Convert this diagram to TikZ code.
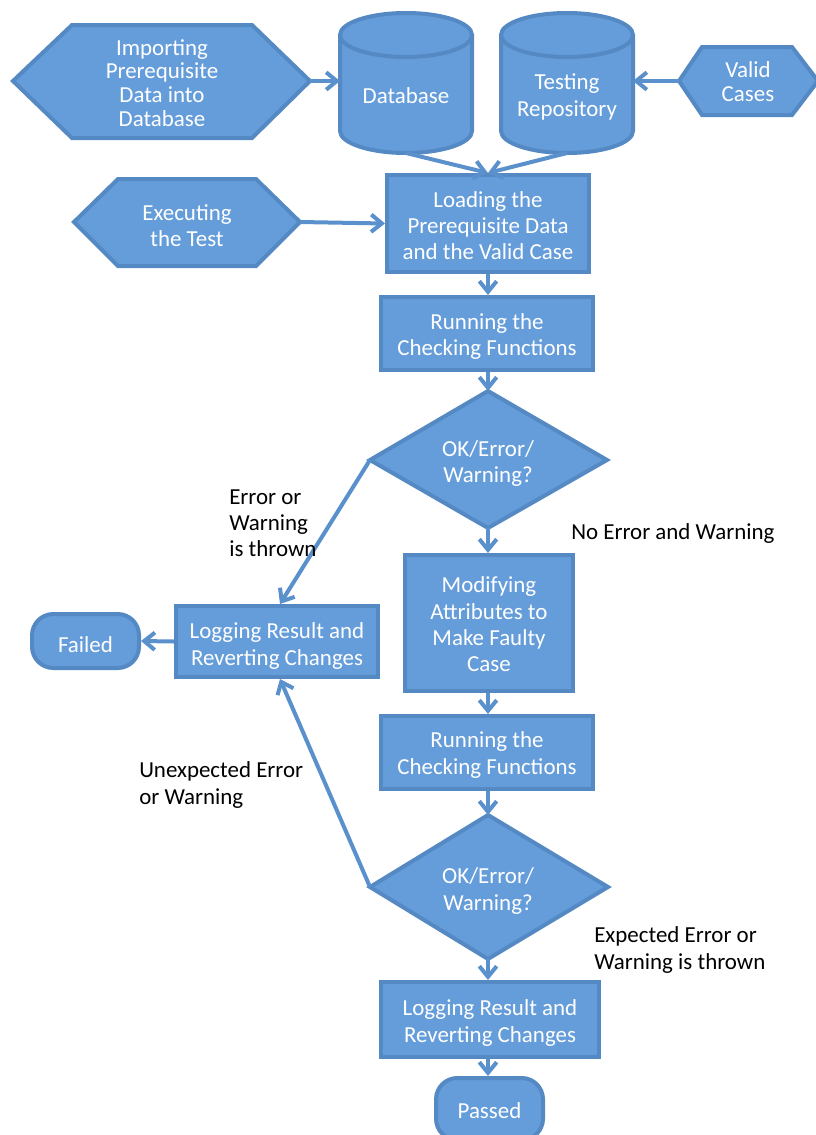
\documentclass[tikz,border=0pt]{standalone}
\usepackage{fontspec}
\setmainfont{Carlito}
\usetikzlibrary{arrows.meta}
\definecolor{shapefill}{RGB}{101,157,218}
\definecolor{shapeline}{RGB}{84,137,195}
\definecolor{connline}{RGB}{90,145,205}
\begin{document}
\begin{tikzpicture}[x=0.75pt,y=0.75pt,
  every node/.style={font=\fontsize{17.2}{19.7}\selectfont},
  shapebase/.style={fill=shapefill,draw=shapeline,line width=3pt,line join=miter},
  txt/.style={text=white,align=center,inner sep=0pt},
  procbox/.style={shapebase,rectangle,inner sep=0pt},
  terminal/.style={shapebase,rectangle,rounded corners=16pt,inner sep=0pt,
    minimum width=80.25pt},
  lbl/.style={text=black,align=left,inner sep=0pt,anchor=west},
  conn/.style={draw=connline,line width=3pt,
    -{Straight Barb[length=8pt,width=13pt,line width=3pt]}}
]
\useasboundingbox[fill=white] (0,0) rectangle (816,-1135);

% --- input hexagons ---
\draw[shapebase] (13,-81) -- (72,-25) -- (252,-25) -- (310,-81) -- (252,-138) -- (72,-138) -- cycle;
\node[txt,font=\fontsize{17.2}{17.8}\selectfont] (imp) at (162,-83) {Importing\\Prerequisite\\Data into\\Database};
\coordinate (impE) at (310,-81);

\draw[shapebase] (74,-222) -- (118,-179) -- (256,-179) -- (300,-222) -- (256,-266) -- (118,-266) -- cycle;
\node[txt] (exe) at (187,-226) {Executing\\the Test};
\coordinate (exeE) at (300,-222);

\draw[shapebase] (679,-81) -- (702,-47) -- (792,-47) -- (818,-81) -- (792,-115) -- (702,-115) -- cycle;
\node[txt,font=\fontsize{17.2}{18}\selectfont] (vc) at (748,-82) {Valid\\Cases};
\coordinate (vcW) at (679,-81);

% --- storage cylinders ---
\foreach \cx/\nm in {406/db,567/trep}{
  \fill[shapefill] (\cx-66,-35) -- (\cx-66,-131)
    arc[start angle=180,end angle=360,x radius=66,y radius=22]
    -- (\cx+66,-35) arc[start angle=0,end angle=180,x radius=66,y radius=22] -- cycle;
  \draw[shapeline,line width=3pt] (\cx-66,-35) -- (\cx-66,-131)
    arc[start angle=180,end angle=360,x radius=66,y radius=22]
    -- (\cx+66,-35);
  \draw[shapeline,line width=3pt] (\cx,-35) ellipse[x radius=66,y radius=22];
  \coordinate (\nm W) at (\cx-66,-81);
  \coordinate (\nm E) at (\cx+66,-81);
  \coordinate (\nm S) at (\cx,-153);
}
\node[txt] (dbtext) at (406,-96) {Database};
\node[txt] (treptext) at (567,-97) {Testing\\Repository};

% --- process boxes ---
\node[procbox,minimum width=151.5pt,minimum height=72.75pt] (load) at (488,-223.5) {};
\node[txt] (loadtxt) at (488,-225.5) {Loading the\\Prerequisite Data\\and the Valid Case};
\node[procbox,minimum width=159pt,minimum height=54.75pt] (run1) at (487,-333.5) {};
\node[txt] (run1txt) at (487,-336.5) {Running the\\Checking Functions};
\node[procbox,minimum width=151.5pt,minimum height=53.25pt] (logL) at (277,-641.5) {};
\node[txt] (logLtxt) at (277,-646) {Logging Result and\\Reverting Changes};
\node[procbox,minimum width=126pt,minimum height=102pt] (mod) at (489,-623) {};
\node[txt] (modtxt) at (489,-624.5) {Modifying\\Attributes to\\Make Faulty\\Case};
\node[procbox,minimum width=159pt,minimum height=54.75pt] (run2) at (487,-752.5) {};
\node[txt] (run2txt) at (487,-755) {Running the\\Checking Functions};
\node[procbox,minimum width=163.5pt,minimum height=56.25pt] (logB) at (490,-1019.5) {};
\node[txt] (logBtxt) at (490,-1023) {Logging Result and\\Reverting Changes};

% --- terminals ---
\node[terminal,minimum height=40.5pt] (failed) at (85.5,-641) {};
\node[txt] (failedtxt) at (85.5,-645) {Failed};
\node[terminal,minimum height=46.5pt] (passed) at (489.5,-1109) {};
\node[txt] (passedtxt) at (489.5,-1111) {Passed};

% --- decisions ---
\draw[shapebase] (488,-391) -- (607,-460) -- (488,-528) -- (370,-460) -- cycle;
\node[txt] (dec1) at (488,-463.5) {OK/Error/\\Warning?};
\coordinate (d1N) at (488,-391);
\coordinate (d1W) at (370,-460);
\coordinate (d1S) at (488,-528);

\draw[shapebase] (488,-815) -- (608,-887) -- (488,-959) -- (370,-887) -- cycle;
\node[txt] (dec2) at (488,-891) {OK/Error/\\Warning?};
\coordinate (d2N) at (488,-815);
\coordinate (d2W) at (370,-887);
\coordinate (d2S) at (488,-959);

% --- connectors ---
\draw[conn] (impE) -- (dbW);
\draw[conn] (vcW) -- (trepE);
\draw[conn] (dbS) -- (load.north);
\draw[conn] (trepS) -- (load.north);
\draw[conn] (exeE) -- (load.west);
\draw[conn] (load.south) -- (run1.north -| load.south);
\draw[conn] (run1.south -| d1N) -- (d1N);
\draw[conn] (d1W) -- ([xshift=2.25pt]logL.north);
\draw[conn] (d1S) -- (mod.north -| d1S);
\draw[conn] (logL.west) -- (failed.east);
\draw[conn] (mod.south -| d1S) -- (run2.north -| d1S);
\draw[conn] (run2.south -| d2N) -- (d2N);
\draw[conn] (d2W) -- ([xshift=2.25pt]logL.south);
\draw[conn] (d2S) -- (logB.north -| d2S);
\draw[conn] (logB.south -| d2S) -- (passed.north -| d2S);

% --- branch labels ---
\node[lbl] (lblErr) at (229,-523) {Error or\\Warning\\is thrown};
\node[lbl] (lblOk) at (571,-534) {No Error and Warning};
\node[lbl] (lblUnexp) at (139,-785) {Unexpected Error\\or Warning};
\node[lbl] (lblExp) at (594,-950) {Expected Error or\\Warning is thrown};
\end{tikzpicture}
\end{document}
